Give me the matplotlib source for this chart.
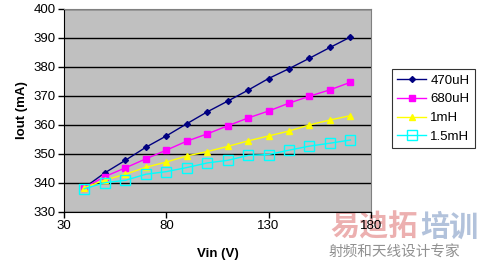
import matplotlib.pyplot as plt

vin = [40, 50, 60, 70, 80, 90, 100, 110, 120, 130, 140, 150, 160, 170]
iout_470uh = [338.4, 343.5, 347.8, 352.3, 356.2, 360.4, 364.5, 368.2, 372.0, 376.0, 379.4, 383.0, 386.7, 390.3]
iout_680uh = [338.4, 342.2, 345.2, 348.3, 351.3, 354.4, 356.9, 359.7, 362.4, 364.8, 367.5, 369.9, 372.1, 374.7]
iout_1mh = [338.4, 341.0, 343.0, 345.4, 347.2, 349.3, 350.8, 352.6, 354.5, 356.2, 357.9, 360.0, 361.7, 363.2]
iout_15mh = [338.0, 340.1, 340.9, 343.0, 343.9, 345.3, 346.9, 347.8, 349.5, 349.8, 351.3, 352.7, 353.7, 354.8]

plt.rcParams['font.family'] = ['Liberation Sans', 'Noto Sans CJK SC']

fig = plt.figure(figsize=(4.81, 2.62), dpi=100)
ax = fig.add_axes([0.133, 0.191, 0.638, 0.775])
ax.set_facecolor('#c0c0c0')

ax.plot(vin, iout_470uh, color='#000080', marker='D', markersize=3, lw=1, label='470uH')
ax.plot(vin, iout_680uh, color='#ff00ff', marker='s', markersize=4, lw=1, label='680uH')
ax.plot(vin, iout_1mh, color='#ffff00', marker='^', markersize=4.5, lw=1, label='1mH')
ax.plot(vin, iout_15mh, color='#00ffff', marker='s', markersize=7, mfc='none', mew=1, lw=1, label='1.5mH')

ax.set_xlim(30, 180)
ax.set_ylim(330, 400)
ax.set_xticks([30, 80, 130, 180])
ax.set_yticks(range(330, 401, 10))
ax.yaxis.grid(True, color='black', lw=1)
ax.set_axisbelow(True)
ax.tick_params(labelsize=9.5, length=4, width=1, pad=2)
for side in ['top', 'right']:
    ax.spines[side].set_color('#808080')
ax.spines['left'].set_color('black')
ax.spines['bottom'].set_color('black')

ax.set_xlabel('Vin (V)', fontsize=9.5, fontweight='bold', labelpad=11)
ax.set_ylabel('Iout (mA)', fontsize=9.5, fontweight='bold', labelpad=4)

leg = fig.legend(loc='upper left', bbox_to_anchor=(392 / 481, 1 - 69 / 262), fontsize=9.5,
                 frameon=True, fancybox=False, edgecolor='black', handlelength=2.2,
                 borderpad=0.4, labelspacing=0.5, handletextpad=0.3, borderaxespad=0)
leg.get_frame().set_linewidth(0.8)

# watermark, drawn beneath the axes so the tick labels stay on top
fig.text(0.686, 0.1, '易迪拓', fontsize=21, color='#e89c9c', fontweight='bold', alpha=0.8, zorder=-1)
fig.text(0.873, 0.1, '培训', fontsize=21, color='#9fb3d3', fontweight='bold', alpha=0.8, zorder=-1)
fig.text(0.683, 0.02, '射频和天线设计专家', fontsize=10.5, color='#909090', zorder=-1)

fig.savefig('out.png', dpi=100)
